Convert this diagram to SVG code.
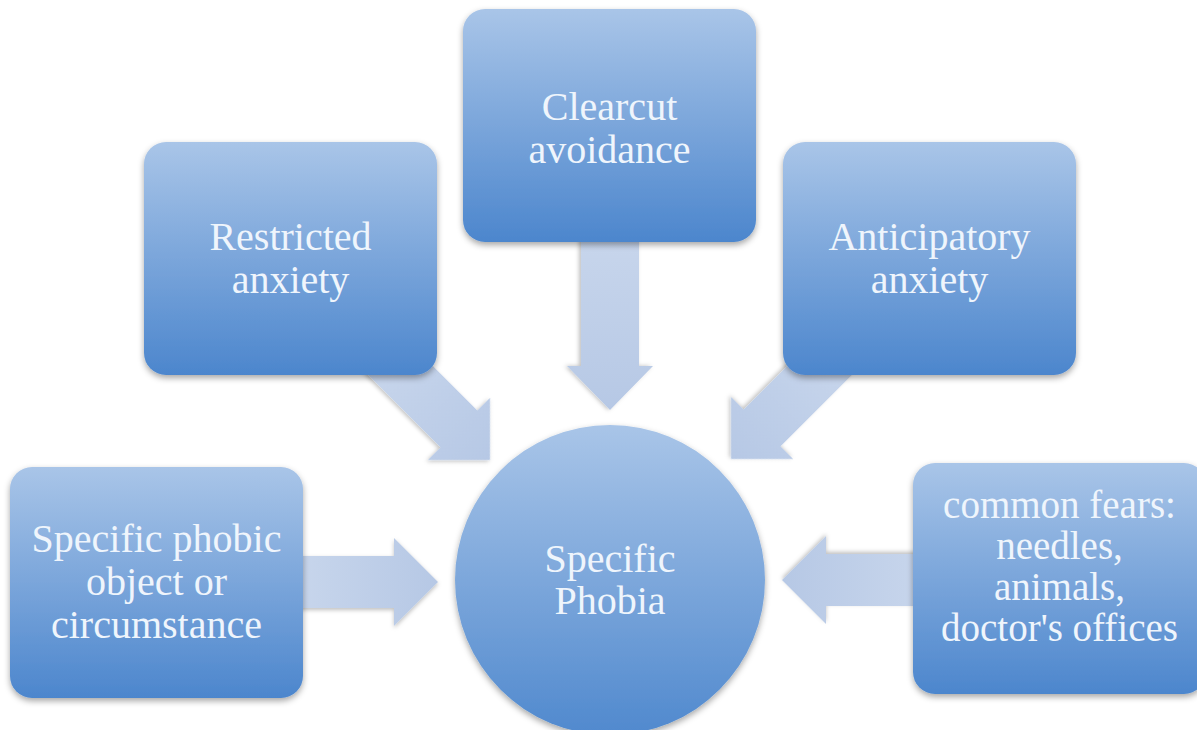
<svg xmlns="http://www.w3.org/2000/svg" width="1197" height="730" viewBox="0 0 1197 730">
  <defs>
    <linearGradient id="boxGrad" x1="0" y1="0" x2="0" y2="1">
      <stop offset="0" stop-color="#a9c5e8"/>
      <stop offset="1" stop-color="#4c86cd"/>
    </linearGradient>
    <linearGradient id="circGrad" x1="0" y1="0" x2="0" y2="1">
      <stop offset="0" stop-color="#a9c5e8"/>
      <stop offset="1" stop-color="#5089ce"/>
    </linearGradient>
    <linearGradient id="arrowGrad" x1="0" y1="0" x2="1" y2="0">
      <stop offset="0" stop-color="#c8d6ec"/>
      <stop offset="1" stop-color="#b6c8e5"/>
    </linearGradient>
    <filter id="shadow" x="-20%" y="-20%" width="140%" height="140%">
      <feDropShadow dx="0" dy="3" stdDeviation="3" flood-color="#000" flood-opacity="0.35"/>
    </filter>
    <filter id="ashadow" x="-20%" y="-20%" width="140%" height="140%">
      <feDropShadow dx="0" dy="2" stdDeviation="2" flood-color="#000" flood-opacity="0.25"/>
    </filter>
  </defs>
  <style>
    .box { fill: url(#boxGrad); filter: url(#shadow); }
    .circ { fill: url(#circGrad); filter: url(#shadow); }
    .arrow { fill: url(#arrowGrad); filter: url(#ashadow); }
    .label { font-family: "Liberation Serif", "Times New Roman", serif; font-size: 40px; fill: #eff5fc; text-anchor: middle; }
    .small { font-size: 39px; }
  </style>
  <rect width="1197" height="730" fill="#ffffff"/>

  <g id="connectors">
    <polygon class="arrow" points="-180,-29 -44,-29 -44,-43 0,0 -44,43 -44,29 -180,29" transform="translate(610,410) rotate(90)"/>
    <polygon class="arrow" points="-155,-26 -44,-26 -44,-44 0,0 -44,44 -44,26 -155,26" transform="translate(490,460) rotate(45)"/>
    <polygon class="arrow" points="-155,-26 -44,-26 -44,-44 0,0 -44,44 -44,26 -155,26" transform="translate(731,459) rotate(135)"/>
    <polygon class="arrow" points="-145,-26 -44,-26 -44,-44 0,0 -44,44 -44,26 -145,26" transform="translate(438,582)"/>
    <polygon class="arrow" points="-145,-26 -44,-26 -44,-44 0,0 -44,44 -44,26 -145,26" transform="translate(782,580) rotate(180)"/>
  </g>

  <g id="node-clearcut">
    <rect class="box" x="463" y="9" width="293" height="233" rx="22"/>
    <text class="label" x="609.5" y="120">Clearcut</text>
    <text class="label" x="609.5" y="163">avoidance</text>
  </g>
  <g id="node-restricted">
    <rect class="box" x="144" y="142" width="293" height="233" rx="22"/>
    <text class="label" x="290.5" y="250">Restricted</text>
    <text class="label" x="290.5" y="293">anxiety</text>
  </g>
  <g id="node-anticipatory">
    <rect class="box" x="783" y="142" width="293" height="233" rx="22"/>
    <text class="label" x="929.5" y="250">Anticipatory</text>
    <text class="label" x="929.5" y="293">anxiety</text>
  </g>
  <g id="node-specific-object">
    <rect class="box" x="10" y="467" width="293" height="231" rx="22"/>
    <text class="label" x="156.5" y="552">Specific phobic</text>
    <text class="label" x="156.5" y="595">object or</text>
    <text class="label" x="156.5" y="638">circumstance</text>
  </g>
  <g id="node-common-fears">
    <rect class="box" x="913" y="463" width="293" height="231" rx="22"/>
    <text class="label small" x="1059.5" y="518">common fears:</text>
    <text class="label small" x="1059.5" y="559">needles,</text>
    <text class="label small" x="1059.5" y="600">animals,</text>
    <text class="label small" x="1059.5" y="641">doctor's offices</text>
  </g>
  <g id="node-specific-phobia">
    <circle class="circ" cx="610" cy="580" r="155"/>
    <text class="label" x="610" y="572">Specific</text>
    <text class="label" x="610" y="614">Phobia</text>
  </g>
</svg>
